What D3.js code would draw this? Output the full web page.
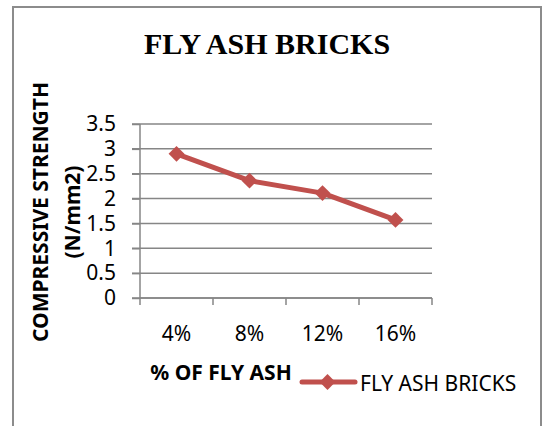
<!DOCTYPE html>
<html>
<head>
<meta charset="utf-8">
<script src="https://cdn.jsdelivr.net/npm/d3@7"></script>
<style>
  body { margin: 0; background: #fff; }
  svg { display: block; }
</style>
</head>
<body>
<svg id="chart" width="543" height="426"></svg>
<script>
// data
var categories = ["4%", "8%", "12%", "16%"];
var strength = [2.9, 2.36, 2.11, 1.57];
var yTicks = [0, 0.5, 1, 1.5, 2, 2.5, 3, 3.5];
var seriesName = "FLY ASH BRICKS";

var svg = d3.select("#chart"),
    margin = { top: 124, right: 111, bottom: 128, left: 140 },
    width = +svg.attr("width") - margin.left - margin.right,
    height = +svg.attr("height") - margin.top - margin.bottom;

var red = "#C0504D", grid = "#868686";
var font = "'Noto Sans', 'Open Sans', sans-serif";
var fs = "21px";

// outer frame
svg.append("rect")
    .attr("x", 13).attr("y", 7)
    .attr("width", 528).attr("height", 425)
    .attr("fill", "none")
    .attr("stroke", "#8c8c8c")
    .attr("stroke-width", 2);

// title
svg.append("text")
    .attr("x", 267).attr("y", 54)
    .attr("text-anchor", "middle")
    .style("font-family", "'Liberation Serif', 'Times New Roman', serif")
    .style("font-weight", "bold")
    .style("font-size", "30px")
    .text("FLY ASH BRICKS");

var g = svg.append("g").attr("transform", "translate(" + margin.left + "," + margin.top + ")");

var x = d3.scaleBand().domain(categories).range([0, width]);
var y = d3.scaleLinear().domain([0, 3.5]).range([height, 0]);

// horizontal gridlines
g.append("g").selectAll("line").data(yTicks).enter()
    .append("line")
    .attr("x1", -8).attr("x2", width)
    .attr("y1", function(d) { return y(d); })
    .attr("y2", function(d) { return y(d); })
    .style("stroke", grid)
    .style("stroke-width", 1.5);

// y axis
var yAxis = g.append("g")
    .call(d3.axisLeft(y).tickValues(yTicks).tickSize(8).tickPadding(16)
        .tickFormat(function(d) { return String(d); }));
yAxis.select(".domain").remove();
yAxis.selectAll("line").style("stroke", grid).style("stroke-width", 1.5);
yAxis.selectAll("text")
    .style("font-family", font)
    .style("font-size", fs)
    .attr("fill", "#000");

// x axis: ticks on band edges
var xg = g.append("g").attr("transform", "translate(0," + height + ")");
xg.append("line")
    .attr("x1", 0).attr("x2", width)
    .style("stroke", grid).style("stroke-width", 1.5);
var edges = categories.map(function(c) { return x(c); }).concat([width]);
xg.selectAll(".edge").data(edges).enter()
    .append("line")
    .attr("x1", function(d) { return d; })
    .attr("x2", function(d) { return d; })
    .attr("y1", 0).attr("y2", 7)
    .style("stroke", grid).style("stroke-width", 1.5);
xg.selectAll(".lbl").data(categories).enter()
    .append("text")
    .attr("x", function(d) { return x(d) + x.bandwidth() / 2; })
    .attr("y", 43)
    .attr("text-anchor", "middle")
    .style("font-family", font)
    .style("font-size", fs)
    .text(function(d) { return d; });

// left axis line
g.append("line")
    .attr("x1", 0).attr("x2", 0)
    .attr("y1", 0).attr("y2", height)
    .style("stroke", grid).style("stroke-width", 1.5);

// series line
var line = d3.line()
    .x(function(d, i) { return x(categories[i]) + x.bandwidth() / 2; })
    .y(function(d) { return y(d); });

g.append("path")
    .datum(strength)
    .attr("d", line)
    .attr("fill", "none")
    .attr("stroke", red)
    .attr("stroke-width", 5)
    .attr("stroke-linejoin", "round");

var diamond = d3.symbol().type(d3.symbolDiamond2).size(160);
g.selectAll(".pt").data(strength).enter()
    .append("path")
    .attr("d", diamond)
    .attr("transform", function(d, i) {
        return "translate(" + (x(categories[i]) + x.bandwidth() / 2) + "," + y(d) + ")";
    })
    .attr("fill", red);

// axis titles
svg.append("text")
    .attr("transform", "translate(48,212) rotate(-90)")
    .attr("text-anchor", "middle")
    .style("font-family", font)
    .style("font-weight", "bold")
    .style("font-size", fs)
    .text("COMPRESSIVE STRENGTH");
svg.append("text")
    .attr("transform", "translate(80,212) rotate(-90)")
    .attr("text-anchor", "middle")
    .style("font-family", font)
    .style("font-weight", "bold")
    .style("font-size", fs)
    .text("(N/mm2)");

svg.append("text")
    .attr("x", 221).attr("y", 380)
    .attr("text-anchor", "middle")
    .style("font-family", font)
    .style("font-weight", "bold")
    .style("font-size", fs)
    .text("% OF FLY ASH");

// legend
var lg = svg.append("g").attr("transform", "translate(300,382)");
lg.append("line")
    .attr("x1", 2).attr("x2", 55)
    .attr("stroke", red).attr("stroke-width", 5)
    .attr("stroke-linecap", "round");
lg.append("path")
    .attr("d", diamond)
    .attr("transform", "translate(27.5,0)")
    .attr("fill", red);
lg.append("text")
    .attr("x", 60).attr("y", 9)
    .style("font-family", font)
    .style("font-size", fs)
    .text(seriesName);
</script>
</body>
</html>
